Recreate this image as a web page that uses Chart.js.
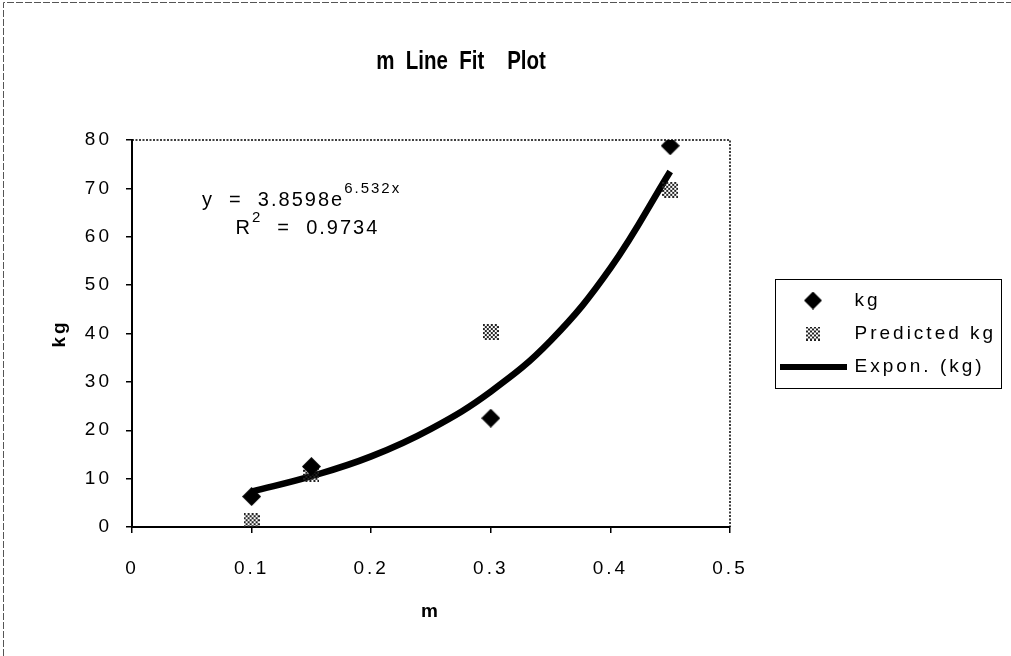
<!DOCTYPE html>
<html>
<head>
<meta charset="utf-8">
<script src="https://cdn.jsdelivr.net/npm/chart.js@4.4.1/dist/chart.umd.min.js"></script>
<style>
  html, body { margin: 0; padding: 0; background: #fff; }
</style>
</head>
<body>
<canvas id="chart" width="1011" height="656"></canvas>
<script>
// values
const mValues = [0.1, 0.15, 0.3, 0.45];
const kgValues = [6.3, 12.5, 22.5, 78.8];
const predictedKg = [1.2, 11.0, 40.3, 69.7];
const trendM = [0.1, 0.15, 0.2, 0.25, 0.3, 0.35, 0.4, 0.45];
const trendKg = [7.3, 10.5, 14.6, 20.3, 28.0, 38.5, 53.5, 73.5];
const xTicks = [0, 0.1, 0.2, 0.3, 0.4, 0.5];
const yTicks = [0, 10, 20, 30, 40, 50, 60, 70, 80];
const seriesNames = ['kg', 'Predicted kg', 'Expon. (kg)'];
const chartTitle = 'm  Line  Fit    Plot';
const equationMain = 'y  =  3.8598e';
const equationPower = '6.532x';
const rSquaredText = '  =  0.9734';

const FAMILY = '"Liberation Sans", Arial, sans-serif';
const LS = '3px';

// marker pictures
function diamond(size) {
  const c = document.createElement('canvas');
  c.width = c.height = size;
  const g = c.getContext('2d');
  g.fillStyle = '#000';
  g.beginPath();
  g.moveTo(size / 2, 0); g.lineTo(size, size / 2); g.lineTo(size / 2, size); g.lineTo(0, size / 2);
  g.closePath();
  g.fill();
  return c;
}
function checker(size) {
  const c = document.createElement('canvas');
  c.width = c.height = size;
  const g = c.getContext('2d');
  g.fillStyle = '#222';
  for (let i = 0; i < size / 2; i++) {
    for (let j = 0; j < size / 2; j++) {
      if ((i + j) % 2 === 0) g.fillRect(i * 2, j * 2, 2, 2);
    }
  }
  return c;
}
function bar(w, h) {
  const c = document.createElement('canvas');
  c.width = w; c.height = h;
  const g = c.getContext('2d');
  g.fillStyle = '#000';
  g.fillRect(0, 0, w, h);
  return c;
}
const kgIcon = diamond(19);
const predIcon = checker(16);
const legendIcons = [diamond(18), checker(14), bar(67, 6)];

const decor = {
  id: 'decor',
  beforeUpdate(chart) { chart.ctx.letterSpacing = LS; },
  beforeDraw(chart) {
    const ctx = chart.ctx;
    ctx.letterSpacing = LS;
    ctx.save();
    ctx.strokeStyle = '#555';
    ctx.lineWidth = 1;
    ctx.setLineDash([7, 2]);
    ctx.beginPath();
    ctx.moveTo(3.5, 656); ctx.lineTo(3.5, 2.5); ctx.lineTo(1011, 2.5);
    ctx.stroke();
    ctx.restore();
  },
  afterDraw(chart) {
    const { ctx, chartArea: a, scales: { x, y }, legend } = chart;
    ctx.save();
    // top and right of the plot frame
    ctx.strokeStyle = '#000';
    ctx.lineWidth = 1.5;
    ctx.setLineDash([2, 1.5]);
    ctx.beginPath();
    ctx.moveTo(a.left, a.top); ctx.lineTo(a.right, a.top); ctx.lineTo(a.right, a.bottom);
    ctx.stroke();
    ctx.setLineDash([]);

    // legend frame
    const hb = legend.legendHitBoxes;
    const top = hb[0].top - 12;
    const bottom = hb[hb.length - 1].top + hb[hb.length - 1].height + 12;
    ctx.lineWidth = 1;
    ctx.strokeRect(legend.left + 8.5, top + 0.5, 226, bottom - top);

    // title, narrow bold
    ctx.fillStyle = '#000';
    ctx.letterSpacing = '0px';
    ctx.font = 'bold 25px ' + FAMILY;
    ctx.textAlign = 'center';
    ctx.textBaseline = 'middle';
    ctx.save();
    ctx.translate(461, 62);
    ctx.scale(0.82, 1);
    ctx.fillText(chartTitle, 0, 0);
    ctx.restore();

    // trend equation
    ctx.letterSpacing = '2px';
    ctx.textAlign = 'left';
    ctx.font = '20px ' + FAMILY;
    let ex = x.getPixelForValue(0.0585);
    let ey = y.getPixelForValue(67.5);
    ctx.fillText(equationMain, ex, ey);
    ex += ctx.measureText(equationMain).width;
    ctx.font = '15px ' + FAMILY;
    ctx.fillText(equationPower, ex, ey - 12);

    ex = x.getPixelForValue(0.0865);
    ey = y.getPixelForValue(61.7);
    ctx.font = '20px ' + FAMILY;
    ctx.fillText('R', ex, ey);
    ex += ctx.measureText('R').width;
    ctx.font = '15px ' + FAMILY;
    ctx.fillText('2', ex, ey - 11);
    ex += ctx.measureText('2').width;
    ctx.font = '20px ' + FAMILY;
    ctx.fillText(rSquaredText, ex, ey);
    ctx.restore();
  }
};

const chart = new Chart(document.getElementById('chart'), {
  type: 'scatter',
  data: {
    datasets: [
      {
        label: seriesNames[0],
        data: mValues.map((m, i) => ({ x: m, y: kgValues[i] })),
        pointStyle: kgIcon,
        pointRadius: 9,
        showLine: false
      },
      {
        label: seriesNames[1],
        data: mValues.map((m, i) => ({ x: m, y: predictedKg[i] })),
        pointStyle: predIcon,
        pointRadius: 8,
        showLine: false
      },
      {
        label: seriesNames[2],
        data: trendM.map((m, i) => ({ x: m, y: trendKg[i] })),
        showLine: true,
        borderColor: '#000',
        borderWidth: 6.5,
        pointRadius: 0,
        tension: 0.4,
        fill: false
      }
    ]
  },
  options: {
    responsive: false,
    animation: false,
    layout: { padding: { top: 140, left: 0, bottom: 0, right: 0 } },
    plugins: {
      title: { display: false },
      tooltip: { enabled: false },
      legend: {
        position: 'right',
        fullSize: false,
        align: 'center',
        labels: {
          usePointStyle: true,
          pointStyleWidth: 64,
          padding: 14,
          color: '#000',
          font: { size: 19, family: FAMILY },
          generateLabels: chart => chart.data.datasets.map((d, i) => ({
            text: seriesNames[i],
            pointStyle: legendIcons[i],
            datasetIndex: i,
            hidden: false,
            fillStyle: '#000',
            strokeStyle: '#000',
            lineWidth: 0,
            fontColor: '#000'
          }))
        }
      }
    },
    scales: {
      x: {
        type: 'linear',
        position: 'bottom',
        min: 0,
        max: 0.5,
        afterBuildTicks: s => { s.ticks = xTicks.map(v => ({ value: v })); },
        afterFit: s => { s.height = 129; },
        grid: { display: true, drawOnChartArea: false, tickLength: 6, color: '#000', lineWidth: 1.5 },
        border: { display: true, color: '#000', width: 2 },
        ticks: {
          padding: 24,
          color: '#000',
          font: { size: 19, family: FAMILY },
          callback: v => String(Math.round(v * 10) / 10)
        },
        title: {
          display: true,
          text: 'm',
          color: '#000',
          font: { size: 19, weight: 'bold', family: FAMILY },
          padding: { top: 0, bottom: 33 }
        }
      },
      y: {
        type: 'linear',
        position: 'left',
        min: 0,
        max: 80,
        afterBuildTicks: s => { s.ticks = yTicks.map(v => ({ value: v })); },
        afterFit: s => { s.width = 132; },
        grid: { display: true, drawOnChartArea: false, tickLength: 6, color: '#000', lineWidth: 1.5 },
        border: { display: true, color: '#000', width: 2 },
        ticks: { padding: 14, color: '#000', font: { size: 19, family: FAMILY } },
        title: {
          display: true,
          text: 'kg',
          color: '#000',
          font: { size: 19, weight: 'bold', family: FAMILY },
          padding: { top: 48, bottom: 0 }
        }
      },
      yr: {
        type: 'linear',
        axis: 'y',
        position: 'right',
        display: true,
        grid: { display: false },
        ticks: { display: false },
        border: { display: false },
        afterFit: s => { s.width = 37; }
      }
    }
  },
  plugins: [decor]
});

// legend column takes the rest of the width, so the plot ends at x = 730
const legendFit = chart.legend.fit.bind(chart.legend);
chart.legend.fit = function () {
  legendFit();
  this.width = 1011 - 730 - 37;
};
chart.update();
</script>
</body>
</html>
